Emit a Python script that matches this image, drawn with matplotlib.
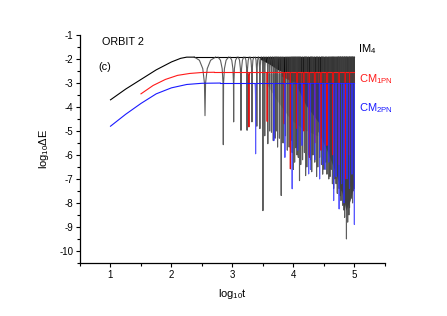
import numpy as np
import matplotlib
matplotlib.use('Agg')
import matplotlib.pyplot as plt
from matplotlib.collections import LineCollection
from matplotlib.ticker import MultipleLocator

plt.rcParams['font.family'] = ['Liberation Sans', 'DejaVu Sans']
plt.rcParams['axes.unicode_minus'] = False
plt.rcParams['mathtext.fontset'] = 'custom'
plt.rcParams['mathtext.rm'] = 'Liberation Sans'
plt.rcParams['mathtext.it'] = 'Liberation Sans'

# --- data (log10 t, log10 dE) ---
# IM4 (black)
im4_rise_x = [1.0, 1.25, 1.5, 1.75, 2.0, 2.15, 2.25, 2.37]
im4_rise_y = [-3.7, -3.25, -2.85, -2.45, -2.12, -1.97, -1.92, -1.92]
im4_top = -1.9
im4_dip_x = [2.55, 2.85, 3.02, 3.14, 3.24, 3.32, 3.40, 3.45, 3.50, 3.53, 3.58, 3.61,
             3.64, 3.67, 3.70, 3.72, 3.74, 3.77, 3.80, 3.83, 3.87, 3.90, 3.93, 3.96,
             3.98, 4.00, 4.02, 4.04, 4.06, 4.08, 4.10, 4.12, 4.15, 4.18, 4.20, 4.22,
             4.25, 4.28, 4.30, 4.32, 4.35, 4.38, 4.40, 4.43, 4.46, 4.48, 4.50, 4.53,
             4.55, 4.58, 4.60, 4.62, 4.64, 4.66, 4.68, 4.70, 4.72, 4.74, 4.75, 4.77,
             4.78, 4.80, 4.81, 4.83, 4.84, 4.86, 4.87, 4.89, 4.91, 4.92, 4.94, 4.95,
             4.97, 4.98, 5.0]
im4_dip_y = [-4.36, -5.57, -4.62, -4.97, -4.97, -4.62, -4.8, -4.9, -8.32, -5.2, -5.53, -5.0,
             -5.05, -5.4, -5.3, -5.0, -5.67, -5.3, -7.69, -5.5, -5.2, -5.8, -5.67, -5.4,
             -5.9, -6.6, -6.3, -5.7, -6.0, -6.1, -7.07, -6.4, -6.2, -5.9, -6.86, -6.5,
             -6.0, -6.2, -6.7, -6.0, -6.3, -6.9, -6.5, -6.1, -6.4, -6.8, -6.6, -6.3,
             -6.8, -7.0, -6.9, -6.6, -7.2, -7.4, -7.0, -7.2, -7.6, -7.0, -7.4, -7.7,
             -7.9, -7.5, -8.1, -8.3, -8.6, -8.0, -9.5, -8.8, -8.5, -8.2, -7.3, -7.8,
             -8.0, -7.5, -7.4]
im4_band_x = [3.45, 3.6, 3.75, 3.9, 4.2, 5.0]
im4_band_lo = [-2.0, -2.2, -2.45, -2.6, -2.6, -2.6]
im4_mid_x = [3.55, 3.75, 3.95, 4.15, 4.4]
im4_mid_lo = [-3.0, -3.8, -4.5, -4.9, -5.2]
im4_deep_x = [4.4, 4.55, 4.7, 4.8, 4.86, 4.93, 5.0]
im4_deep_lo = [-5.0, -5.8, -6.8, -7.6, -8.3, -7.9, -7.2]

# CM 1PN (red)
cm1_rise_x = [1.5, 1.7, 1.9, 2.1, 2.3, 2.5, 2.7]
cm1_rise_y = [-3.45, -3.1, -2.85, -2.68, -2.6, -2.56, -2.55]
cm1_top = -2.55
cm1_dip_x = [3.27, 3.57, 3.85, 3.95, 4.06, 4.17, 4.26, 4.35, 4.45, 4.55, 4.65, 4.75,
             4.85, 4.92]
cm1_dip_y = [-4.83, -4.6, -4.7, -6.58, -4.9, -5.0, -6.1, -5.5, -5.8, -5.6, -6.0, -6.4,
             -7.0, -6.0]
cm1_band_x = [3.8, 3.95, 4.1, 5.0]
cm1_band_lo = [-2.7, -2.9, -3.0, -3.0]

# CM 2PN (blue)
cm2_rise_x = [1.0, 1.25, 1.5, 1.75, 2.0, 2.25, 2.5, 2.8]
cm2_rise_y = [-4.8, -4.3, -3.85, -3.45, -3.2, -3.06, -3.01, -3.0]
cm2_top = -3.0
cm2_dip_x = [3.38, 3.68, 3.86, 3.98, 4.07, 4.14, 4.25, 4.28, 4.35, 4.43, 4.48, 4.52,
             4.58, 4.66, 4.70, 4.75, 4.79, 4.83, 4.88, 4.92, 4.96, 5.0]
cm2_dip_y = [-5.95, -5.4, -6.1, -7.41, -5.8, -5.6, -6.79, -6.6, -6.2, -7.0, -6.4, -6.6,
             -6.3, -7.9, -6.9, -8.25, -7.2, -8.0, -7.0, -7.4, -6.8, -8.9]
cm2_band_x = [4.05, 4.2, 4.4, 4.6, 4.8, 5.0]
cm2_band_lo = [-3.1, -3.9, -4.6, -5.1, -5.6, -6.0]

x_end = 5.0

# dip outline: offsets in half-widths and drop below the plateau
shape_u = [-1.0, -0.5, -0.2, -0.05, 0.0, 0.05, 0.2, 0.5, 1.0]
shape_d = [0.0, -0.15, -0.5, -1.1, None, -1.1, -0.5, -0.15, 0.0]


def dip_segments(xs, ys, top, wt):
    segs = []
    for xd, yd in zip(xs, ys):
        t = 10 ** xd
        w = wt / (t * np.log(10))
        seg = []
        for u, d in zip(shape_u, shape_d):
            yy = yd if d is None else max(top + d, yd)
            seg.append((min(xd + u * w, x_end), yy))
        segs.append(seg)
    return segs


def draw_series(ax, rx, ry, top, dx, dy, bx, blo, color, dipcol, wt, alpha=1.0):
    ax.plot(rx, ry, color=color, lw=0.8)
    ax.plot([rx[-1], x_end], [top, top], color=color, lw=0.8)
    lc = LineCollection(dip_segments(dx, dy, top, wt), colors=dipcol,
                        linewidths=0.8, alpha=alpha)
    ax.add_collection(lc)
    ax.fill_between(bx, top, blo, color=color, lw=0)


fig = plt.figure(figsize=(4.47, 3.16), dpi=100)
ax = fig.add_axes([0.179, 0.168, 0.682, 0.721])

# black
ax.fill_between(im4_mid_x, -2.6, im4_mid_lo, color='0.55', alpha=0.45, lw=0)
ax.fill_between(im4_deep_x, -2.6, im4_deep_lo, color='0.3', lw=0)
draw_series(ax, im4_rise_x, im4_rise_y, im4_top, im4_dip_x, im4_dip_y,
            im4_band_x, im4_band_lo, 'black', '0.25', 150, alpha=0.85)
# red
draw_series(ax, cm1_rise_x, cm1_rise_y, cm1_top, cm1_dip_x, cm1_dip_y,
            cm1_band_x, cm1_band_lo, '#ff1a1a', '#e01010', 60)
# blue
draw_series(ax, cm2_rise_x, cm2_rise_y, cm2_top, cm2_dip_x, cm2_dip_y,
            cm2_band_x, cm2_band_lo, '#1a1aff', '#3030ff', 60, alpha=0.8)

ax.set_xlim(0.5, 5.5)
ax.set_ylim(-10.5, -1)
ax.xaxis.set_major_locator(MultipleLocator(1))
ax.xaxis.set_minor_locator(MultipleLocator(0.5))
ax.yaxis.set_major_locator(MultipleLocator(1))
ax.yaxis.set_minor_locator(MultipleLocator(0.5))
ax.spines['top'].set_visible(False)
ax.spines['right'].set_visible(False)
ax.spines['left'].set_linewidth(0.9)
ax.spines['bottom'].set_linewidth(0.9)
ax.tick_params(which='major', direction='out', length=3, width=0.8, labelsize=7, pad=2)
ax.tick_params(which='minor', direction='out', length=2, width=0.8)

ax.set_xlabel(r'log$_{10}$t', fontsize=8, labelpad=5)
ax.set_ylabel(r'log$_{10}$ΔE', fontsize=8, labelpad=6)

ax.text(0.86, -1.3, 'ORBIT 2', fontsize=7.8, va='center')
ax.text(0.8, -2.32, '(c)', fontsize=7.8, va='center')
ax.text(5.06, -1.6, r'IM$_4$', fontsize=8, va='center', color='black')
ax.text(5.07, -2.85, r'CM$_{1PN}$', fontsize=8, va='center', color='#ff1a1a')
ax.text(5.07, -4.05, r'CM$_{2PN}$', fontsize=8, va='center', color='#1a1aff')

fig.savefig('out.png', dpi=100)
